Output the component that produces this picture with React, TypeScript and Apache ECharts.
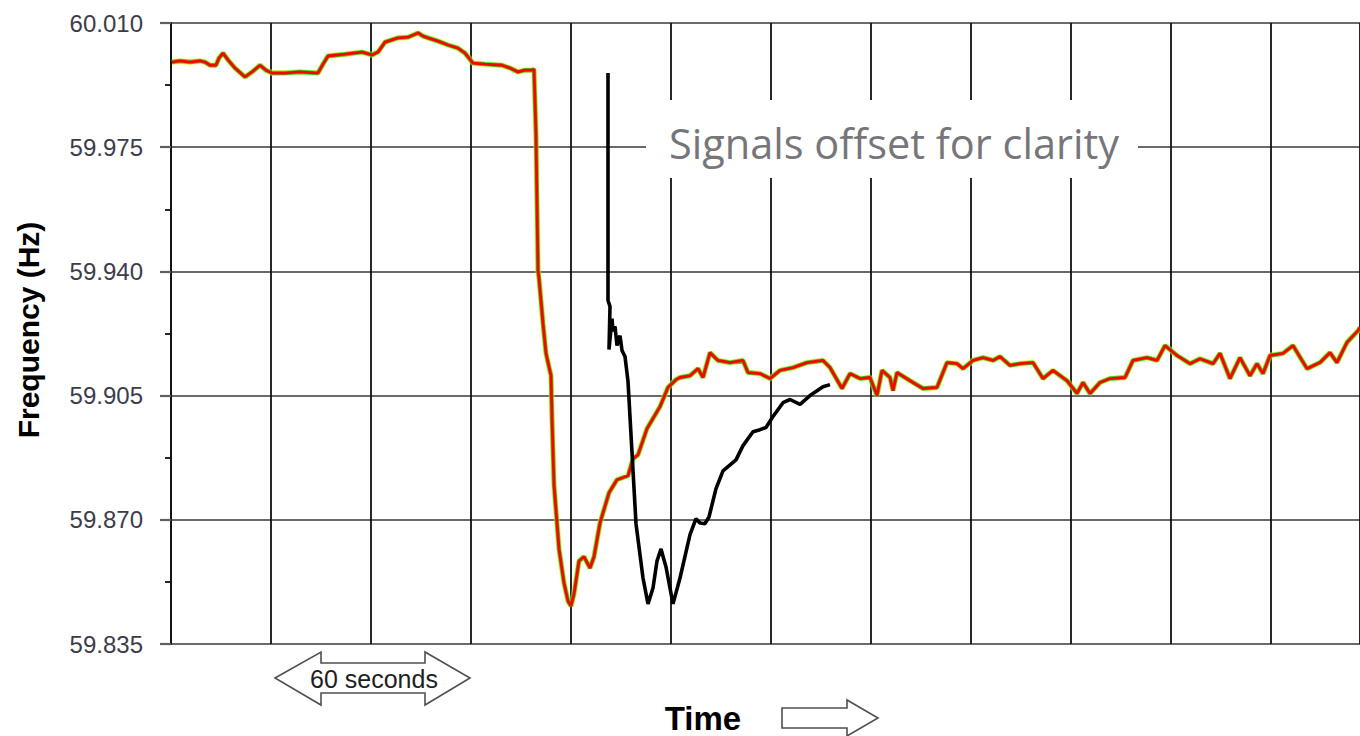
import React, { useEffect, useRef } from "react";
import * as echarts from "echarts";

// Y tick labels (Hz)
const yTickLabels = ["59.835", "59.870", "59.905", "59.940", "59.975", "60.010"];
const Y_BASE = 59.835;

// Multi-channel (coloured) frequency trace: time in seconds, frequency in Hz
const traceTime = [
  0.3, 2.7, 5.7, 8.7, 10.2, 11.7, 13.5, 14.4, 15.6, 17.1, 19.2, 22.2, 24.3, 26.7, 28.5, 30.3,
  34.2, 38.7, 44.1, 45.6, 47.1, 52.2, 57.3, 60.3, 62.1, 64.2, 68.1, 71.1, 74.1, 75.6, 77.1, 80.1,
  83.1, 86.1, 88.2, 90.6, 94.2, 99.3, 101.7, 104.1, 106.2, 108.3, 108.9, 109.5, 110.1, 110.4,
  111.6, 112.5, 114.0, 114.3, 114.9, 116.4, 117.9, 119.1, 120.0, 120.9, 122.4, 123.9, 125.7,
  126.9, 128.7, 131.4, 133.8, 137.1, 138.6, 140.1, 142.8, 146.7, 149.1, 151.5, 152.7, 155.7,
  158.1, 159.6, 161.7, 164.1, 167.7, 171.6, 173.1, 176.7, 179.7, 182.7, 186.6, 190.8, 195.6,
  197.7, 201.3, 203.7, 206.7, 209.7, 211.8, 213.3, 215.7, 216.6, 217.8, 221.7, 225.6, 229.8,
  232.8, 235.8, 237.6, 240.6, 243.6, 246.6, 248.7, 251.7, 254.7, 258.6, 261.6, 264.6, 268.8,
  271.8, 273.6, 275.7, 278.7, 281.7, 286.2, 288.6, 292.8, 295.8, 298.2, 301.8, 305.7, 308.7,
  312.6, 314.7, 317.7, 320.7, 323.7, 325.8, 327.6, 329.7, 333.6, 336.6, 340.8, 344.7, 347.7,
  349.8, 352.8, 356.1, 356.7,
];
const traceHz = [
  59.999, 59.9993, 59.999, 59.9993, 59.999, 59.9981, 59.9981, 60.0001, 60.0015, 59.9996, 59.9973,
  59.9948, 59.9962, 59.9981, 59.9967, 59.9959, 59.9959, 59.9962, 59.9959, 59.9984, 60.0007,
  60.0012, 60.0018, 60.001, 60.0018, 60.0046, 60.0058, 60.006, 60.0072, 60.0063, 60.0058,
  60.0049, 60.0038, 60.0029, 60.0015, 59.9987, 59.9984, 59.9981, 59.9973, 59.9962, 59.9967,
  59.9967, 59.997, 59.9784, 59.9403, 59.938, 59.9253, 59.9169, 59.9106, 59.8988, 59.8799,
  59.8618, 59.8522, 59.8471, 59.8457, 59.8491, 59.8584, 59.8596, 59.8564, 59.8596, 59.8691,
  59.8776, 59.8813, 59.8824, 59.8872, 59.8883, 59.8957, 59.9019, 59.9073, 59.9095, 59.9101,
  59.9106, 59.9126, 59.9101, 59.9171, 59.9149, 59.9143, 59.9149, 59.9115, 59.9112, 59.9098,
  59.9121, 59.9129, 59.9143, 59.9149, 59.9129, 59.907, 59.9112, 59.9098, 59.9101, 59.905,
  59.9121, 59.9101, 59.9064, 59.9115, 59.9092, 59.907, 59.9073, 59.9143, 59.914, 59.9126,
  59.9149, 59.9157, 59.9149, 59.916, 59.9135, 59.914, 59.9143, 59.9098, 59.9121, 59.9092,
  59.9056, 59.9087, 59.9056, 59.9087, 59.9098, 59.9101, 59.9149, 59.9157, 59.9149, 59.9191,
  59.9163, 59.914, 59.9154, 59.914, 59.9169, 59.9098, 59.9157, 59.9106, 59.914, 59.9112,
  59.9163, 59.9169, 59.9191, 59.9126, 59.9143, 59.9171, 59.9143, 59.92, 59.9233, 59.9242,
];

// Offset (black) signal
const offsetTime = [
  131.1, 131.1, 131.7, 131.4, 132.3, 132.6, 133.2, 133.8, 134.7, 135.3, 136.2, 137.1, 138.0,
  139.5, 141.6, 143.1, 144.6, 145.8, 147.0, 148.5, 150.6, 152.7, 155.7, 157.5, 158.7, 160.2,
  161.4, 163.5, 165.6, 169.5, 171.6, 174.6, 176.7, 178.5, 180.6, 183.6, 185.7, 188.7, 191.7,
  195.6, 197.7,
];
const offsetHz = [
  59.9959, 59.9318, 59.9301, 59.918, 59.9267, 59.9231, 59.9245, 59.9191, 59.9219, 59.9177,
  59.916, 59.909, 59.894, 59.8689, 59.8536, 59.8463, 59.8508, 59.8584, 59.8618, 59.8567,
  59.8463, 59.8536, 59.8658, 59.8703, 59.8691, 59.8689, 59.8708, 59.8788, 59.8838, 59.8869,
  59.8909, 59.8948, 59.8954, 59.896, 59.8991, 59.903, 59.9039, 59.9025, 59.905, 59.9075, 59.9081,
];

const toMilli = (hz: number) => Math.round((hz - Y_BASE) * 1e6) / 1e3;

export default function App() {
  const ref = useRef<HTMLDivElement>(null);
  useEffect(() => {
    if (!ref.current) return;
    const chart = echarts.init(ref.current, null, { renderer: "svg" });
    const trace = traceTime.map((t, i) => [t, toMilli(traceHz[i])]);
    const offset = offsetTime.map((t, i) => [t, toMilli(offsetHz[i])]);
    const arrowStroke = { fill: "#fff", stroke: "#505050", lineWidth: 1.6 };
    chart.setOption({
      animation: false,
      backgroundColor: "#ffffff",
      grid: { left: 171, right: 0, top: 23, bottom: 92 },
      xAxis: {
        type: "value",
        min: 0,
        max: 356.7,
        interval: 30,
        axisLine: { show: false },
        axisTick: { show: false },
        axisLabel: { show: false },
        splitLine: { show: true, lineStyle: { color: "#111111", width: 1.8 } },
      },
      yAxis: {
        type: "value",
        min: 0,
        max: 175,
        interval: 35,
        axisLine: { show: true, lineStyle: { color: "#111111", width: 1.8 } },
        axisTick: { show: true, length: 11, lineStyle: { color: "#5e5e5e", width: 2.2 } },
        minorTick: { show: true, splitNumber: 2, length: 6, lineStyle: { color: "#111111", width: 1.8 } },
        splitLine: { show: true, lineStyle: { color: "#6a6a6a", width: 2.2 } },
        axisLabel: {
          margin: 28,
          fontFamily: "Arial, Liberation Sans, sans-serif",
          fontSize: 24,
          color: "#3c3c4a",
          formatter: (v: number) => {
            const idx = Math.round(v / 35);
            return yTickLabels[idx] ?? (Y_BASE + v / 1000).toFixed(3);
          },
        },
      },
      series: [
        {
          type: "line",
          data: trace,
          showSymbol: false,
          lineStyle: { color: "#f4f000", width: 6, opacity: 0.5 },
          z: 2,
        },
        {
          type: "line",
          data: trace,
          showSymbol: false,
          lineStyle: { color: "#1fc81f", width: 4.4, opacity: 0.85 },
          z: 3,
        },
        {
          type: "line",
          data: trace,
          showSymbol: false,
          lineStyle: { color: "#ff0000", width: 2.8 },
          z: 4,
        },
        {
          type: "line",
          data: offset,
          showSymbol: false,
          lineStyle: { color: "#000000", width: 3.6 },
          z: 5,
        },
      ],
      graphic: [
        { type: "rect", shape: { x: 646, y: 100, width: 492, height: 78 }, style: { fill: "#ffffff" }, z: 100 },
        {
          type: "text",
          x: 894,
          y: 143,
          z: 101,
          style: {
            text: "Signals offset for clarity",
            fontFamily: "Open Sans, sans-serif",
            fontSize: 41.5,
            fill: "#76767a",
            align: "center",
            verticalAlign: "middle",
          },
        },
        {
          type: "polygon",
          z: 100,
          shape: {
            points: [
              [275, 678], [321, 652], [321, 663], [425, 663], [425, 652], [470, 678],
              [425, 705], [425, 693], [321, 693], [321, 705],
            ],
          },
          style: arrowStroke,
        },
        {
          type: "text",
          x: 374,
          y: 679,
          z: 101,
          style: {
            text: "60 seconds",
            fontFamily: "Arial, Liberation Sans, sans-serif",
            fontSize: 25,
            fill: "#1e1e1e",
            align: "center",
            verticalAlign: "middle",
          },
        },
        {
          type: "text",
          x: 703,
          y: 718,
          z: 101,
          style: {
            text: "Time",
            fontFamily: "Arial, Liberation Sans, sans-serif",
            fontWeight: "bold",
            fontSize: 33,
            fill: "#000000",
            align: "center",
            verticalAlign: "middle",
          },
        },
        {
          type: "polygon",
          z: 100,
          shape: {
            points: [[782, 708], [847, 708], [847, 700], [878, 718], [847, 736], [847, 728], [782, 728]],
          },
          style: arrowStroke,
        },
        {
          type: "text",
          x: 28,
          y: 330,
          rotation: Math.PI / 2,
          z: 101,
          style: {
            text: "Frequency (Hz)",
            fontFamily: "Arial, Liberation Sans, sans-serif",
            fontWeight: "bold",
            fontSize: 30,
            fill: "#000000",
            align: "center",
            verticalAlign: "middle",
          },
        },
      ],
    });
    return () => chart.dispose();
  }, []);
  return (
    <div
      ref={ref}
      style={{ position: "fixed", left: 0, top: 0, width: 1360, height: 736, background: "#fff" }}
    />
  );
}
